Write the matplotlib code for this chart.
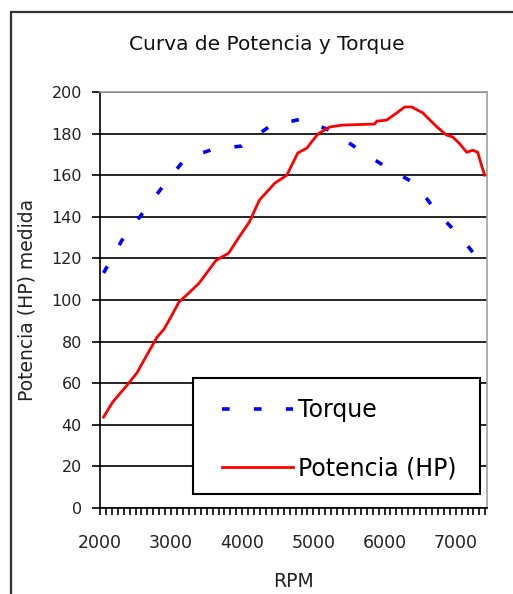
import numpy as np
import matplotlib
matplotlib.use("Agg")
import matplotlib.pyplot as plt
from matplotlib.patches import Rectangle
from matplotlib.ticker import MultipleLocator

plt.rcParams['font.family'] = ['DejaVu Sans']
plt.rcParams['lines.scale_dashes'] = False

# Torque curve
rpm_torque = [2050, 2310, 2600, 2910, 3200, 3600, 3990, 4390, 4830, 5260,
              5650, 6040, 6440, 6720, 7070, 7400]
torque = [113, 128.8, 141.8, 155.8, 168, 172.6, 174, 183.6, 187, 181.2,
          172, 163.5, 155.8, 142.8, 130.3, 116]

# Power curve (HP)
rpm_power = [2050, 2180, 2380, 2520, 2650, 2800, 2900, 3000, 3110, 3250,
             3390, 3500, 3630, 3810, 3950, 4100, 4240, 4458, 4626, 4781,
             4907, 5062, 5230, 5413, 5600, 5862, 5890, 6030, 6170, 6283,
             6382, 6536, 6733, 6870, 6958, 7060, 7155, 7240, 7310, 7370,
             7407]
power = [43.7, 51, 59, 65, 73, 82, 86, 92, 99, 103.4,
         108, 113, 119, 122.6, 130, 137.5, 148, 156.2, 160, 170.7,
         173, 179.8, 183.2, 184.1, 184.3, 184.6, 186, 186.5, 189.9, 192.8,
         192.8, 190, 183.3, 179.3, 178.4, 175, 171, 172, 171, 164,
         160]

y_ticks = [0, 20, 40, 60, 80, 100, 120, 140, 160, 180, 200]
x_ticks = [2000, 3000, 4000, 5000, 6000, 7000]

W, H = 513, 594
fig = plt.figure(figsize=(W / 100, H / 100), dpi=100)
fig.patch.set_facecolor('white')

# outer chart frame (cut off at right and bottom)
fig.patches.append(Rectangle((11 / W, -0.05), 1.1, 1 - 12 / H + 0.05,
                             transform=fig.transFigure, fill=False,
                             edgecolor='#333333', linewidth=1.6, clip_on=False))

ax_l, ax_b, ax_w, ax_h = 100, 508, 387, 416   # pixels
ax = fig.add_axes([ax_l / W, 1 - ax_b / H, ax_w / W, ax_h / H])

ax.plot(rpm_torque, torque, color='#0000ff', linewidth=2.6,
        linestyle=(0, (5.5, 17.5)), label='Torque', dash_capstyle='butt')
ax.plot(rpm_power, power, color='#ff0000', linewidth=2.0, label='Potencia (HP)')

ax.set_xlim(2000, 7440)
ax.set_ylim(0, 200)
ax.set_yticks(y_ticks)
ax.set_xticks(x_ticks)
ax.xaxis.set_minor_locator(MultipleLocator(1000 / 12))
ax.yaxis.grid(True, color='black', linewidth=1.2)
ax.set_axisbelow(True)

for s in ['top', 'right']:
    ax.spines[s].set_color('#a0a0a0')
    ax.spines[s].set_linewidth(1.2)
for s in ['left', 'bottom']:
    ax.spines[s].set_color('black')
    ax.spines[s].set_linewidth(1.2)

ax.tick_params(axis='y', length=6, width=1.2, pad=7, labelsize=11.5,
               labelcolor='#222222')
ax.tick_params(axis='x', which='both', length=5, width=1.2, direction='out',
               pad=14, labelsize=12.5, labelcolor='#222222')

ax.set_xlabel('RPM', fontsize=13.5, color='#222222', labelpad=14)
ax.set_ylabel('Potencia (HP) medida', fontsize=13.5, color='#222222', labelpad=11)
fig.text(267 / W, 1 - 45 / H, 'Curva de Potencia y Torque', fontsize=14.5,
         ha='center', va='center', color='#111111')

# legend box drawn separately so its padding can match
def ax_x(px):
    return (px - ax_l) / ax_w

def ax_y(py):
    return (ax_b - py) / ax_h

ax.add_patch(Rectangle((ax_x(193), ax_y(494)), ax_x(480) - ax_x(193),
                       ax_y(378) - ax_y(494), transform=ax.transAxes,
                       facecolor='white', edgecolor='black', linewidth=1.5,
                       zorder=4))
leg = ax.legend(loc='upper left', bbox_to_anchor=(ax_x(222), ax_y(398)),
                borderaxespad=0, borderpad=0, fontsize=17, frameon=False,
                handlelength=3.0, handletextpad=0.2, labelspacing=1.45)
leg.set_zorder(6)

fig.savefig('out.png', dpi=100, facecolor='white')
